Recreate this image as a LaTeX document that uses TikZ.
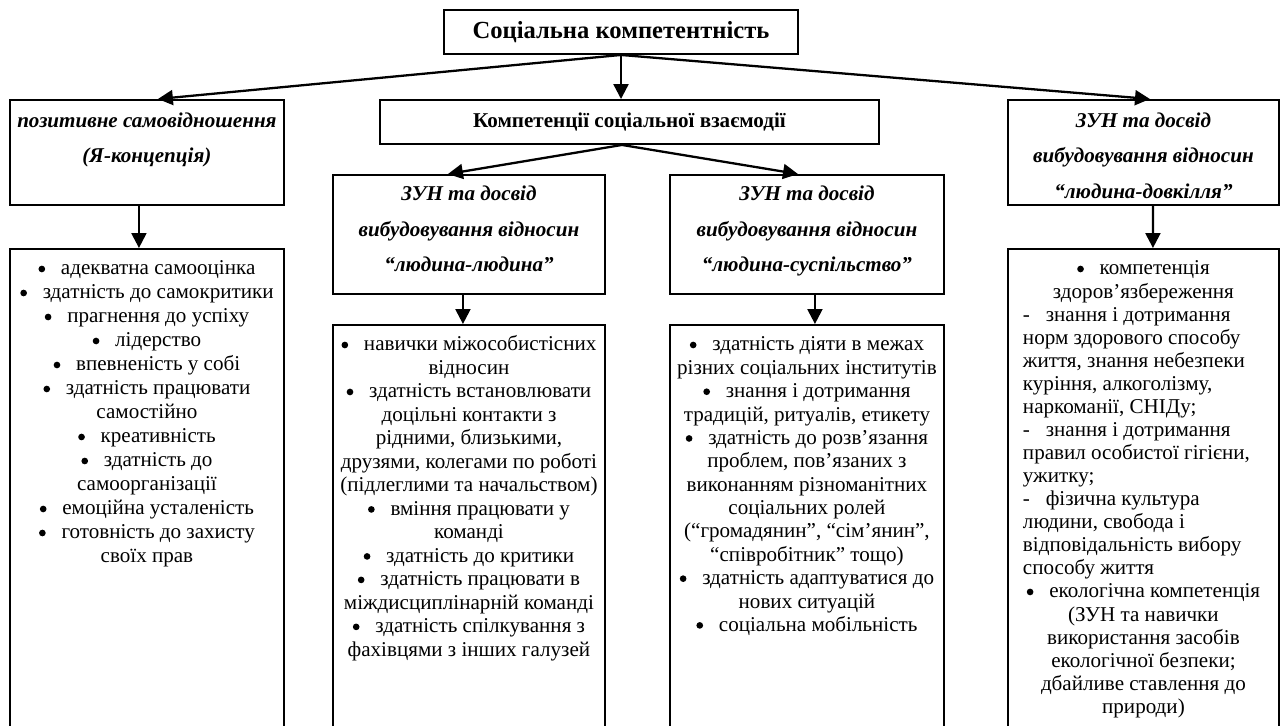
\documentclass[tikz,border=0pt]{standalone}
\usepackage{fontspec}
\setmainfont{Liberation Serif}
\usetikzlibrary{arrows.meta}

\newcommand{\bulit}{\tikz[baseline=-3.4pt]\fill (0,0) circle (1.9pt);\hspace{9pt}}
\newcommand{\dashit}{\makebox[13pt][l]{-}}

\tikzset{
  box/.style={draw, line width=1.1pt, inner sep=0pt},
  hdr/.style={box, anchor=north west, font=\fontsize{12}{20.2}\selectfont\bfseries\itshape},
  lst/.style={box, anchor=north west},
  arr/.style={line width=1.3pt, -{Triangle[length=8.5pt,width=8.5pt]}},
}

\begin{document}
\begin{tikzpicture}[x=0.02cm, y=-0.02cm]
    % FRAME
    \useasboundingbox (0,0) rectangle (1280,726);
    \clip (0,0) rectangle (1280,726);

    % TOP
    \node[box, minimum width=7.08cm, minimum height=0.88cm, font=\fontsize{14}{16}\selectfont\bfseries] (top) at (621,32) {Соціальна компетентність};

    % SECOND ROW
    \node[hdr] (self) at (9,99) {\parbox[t][2.1cm][t]{5.48cm}{\centering\rule{0pt}{15.4pt}позитивне самовідношення\\(Я-концепція)}};
    \node[box, minimum width=9.98cm, minimum height=0.88cm, font=\fontsize{12}{14}\selectfont\bfseries] (inter) at (629.5,122) {Компетенції соціальної взаємодії};
    \node[hdr] (envr) at (1007,99) {\parbox[t][2.1cm][t]{5.42cm}{\centering\rule{0pt}{15.4pt}ЗУН та досвід\\вибудовування відносин\\“людина-довкілля”}};

    % THIRD ROW
    \node[hdr] (zun1) at (332,174) {\parbox[t][2.38cm][t]{5.44cm}{\centering\rule{0pt}{14.8pt}ЗУН та досвід\\вибудовування відносин\\“людина-людина”}};
    \node[hdr] (zun2) at (669,174) {\parbox[t][2.38cm][t]{5.48cm}{\centering\rule{0pt}{14.8pt}ЗУН та досвід\\вибудовування відносин\\“людина-суспільство”}};

    % LISTS
    \node[lst, font=\fontsize{12}{13.66}\selectfont] (list1) at (9,248) {\parbox[t][10cm][t]{5.48cm}{\centering\rule{0pt}{14.8pt}\bulit адекватна самооцінка\\
      \bulit здатність до самокритики\\
      \bulit прагнення до успіху\\
      \bulit лідерство\\
      \bulit впевненість у собі\\
      \bulit здатність працювати\\
      самостійно\\
      \bulit креативність\\
      \bulit здатність до\\
      самоорганізації\\
      \bulit емоційна усталеність\\
      \bulit готовність до захисту\\
      своїх прав}};
    \node[lst, font=\fontsize{12}{13.37}\selectfont] (list2) at (332,324) {\parbox[t][9cm][t]{5.44cm}{\centering\rule{0pt}{14.8pt}\bulit навички міжособистісних\\
      відносин\\
      \bulit здатність встановлювати\\
      доцільні контакти з\\
      рідними, близькими,\\
      друзями, колегами по роботі\\
      (підлеглими та начальством)\\
      \bulit вміння працювати у\\
      команді\\
      \bulit здатність до критики\\
      \bulit здатність працювати в\\
      міждисциплінарній команді\\
      \bulit здатність спілкування з\\
      фахівцями з інших галузей}};
    \node[lst, font=\fontsize{12}{13.3}\selectfont] (list3) at (669,324) {\parbox[t][9cm][t]{5.48cm}{\centering\rule{0pt}{14.8pt}\bulit здатність діяти в межах\\
      різних соціальних інститутів\\
      \bulit знання і дотримання\\
      традицій, ритуалів, етикету\\
      \bulit здатність до розв’язання\\
      проблем, пов’язаних з\\
      виконанням різноманітних\\
      соціальних ролей\\
      (“громадянин”, “сім’янин”,\\
      “співробітник” тощо)\\
      \bulit здатність адаптуватися до\\
      нових ситуацій\\
      \bulit соціальна мобільність}};
    \node[lst, inner xsep=0.3cm, font=\fontsize{12}{13.13}\selectfont] (list4) at (1007,248) {\parbox[t][10cm][t]{4.82cm}{\centering\rule{0pt}{14.8pt}\bulit компетенція\\
      здоров’язбереження\par
      \raggedright
      \dashit знання і дотримання\\
      норм здорового способу\\
      життя, знання небезпеки\\
      куріння, алкоголізму,\\
      наркоманії, СНІДу;\\
      \dashit знання і дотримання\\
      правил особистої гігієни,\\
      ужитку;\\
      \dashit фізична культура\\
      людини, свобода і\\
      відповідальність вибору\\
      способу життя\par
      \centering
      \bulit екологічна компетенція\\
      (ЗУН та навички\\
      використання засобів\\
      екологічної безпеки;\\
      дбайливе ставлення до\\
      природи)}};

    % ARROWS
    \draw[arr] (top.south) -- ([xshift=0.22cm]self.north);
    \draw[arr] (top.south) -- (top.south |- inter.north);
    \draw[arr] (top.south) -- ([xshift=0.13cm]envr.north);
    \draw[arr] ([xshift=-0.15cm]inter.south) -- ([xshift=-0.42cm]zun1.north);
    \draw[arr] ([xshift=-0.15cm]inter.south) -- ([xshift=-0.18cm]zun2.north);
    \draw[arr] ([xshift=-0.16cm]self.south) -- ([xshift=-0.16cm]list1.north);
    \draw[arr] ([xshift=-0.12cm]zun1.south) -- ([xshift=-0.12cm]list2.north);
    \draw[arr] ([xshift=0.16cm]zun2.south) -- ([xshift=0.16cm]list3.north);
    \draw[arr] ([xshift=0.19cm]envr.south) -- ([xshift=0.19cm]list4.north);

\end{tikzpicture}
\end{document}
